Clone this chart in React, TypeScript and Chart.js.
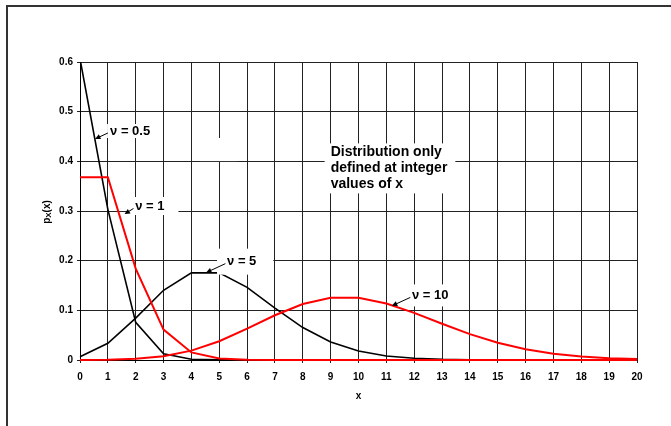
import React, { useEffect, useRef } from 'react';
import { Chart, registerables } from 'chart.js';

Chart.register(...registerables);

const xCategories = ['0', '1', '2', '3', '4', '5', '6', '7', '8', '9', '10', '11', '12', '13', '14', '15', '16', '17', '18', '19', '20'];
const nu05 = [0.6065, 0.3033, 0.0758, 0.0126, 0.0016, 0.0002, 0, 0, 0, 0, 0, 0, 0, 0, 0, 0, 0, 0, 0, 0, 0];
const nu1 = [0.3679, 0.3679, 0.1839, 0.0613, 0.0153, 0.0031, 0.0005, 0.0001, 0, 0, 0, 0, 0, 0, 0, 0, 0, 0, 0, 0, 0];
const nu5 = [0.0067, 0.0337, 0.0842, 0.1404, 0.1755, 0.1755, 0.1462, 0.1044, 0.0653, 0.0363, 0.0181, 0.0082, 0.0034, 0.0013, 0.0005, 0.0002, 0.0001, 0, 0, 0, 0];
const nu10 = [0.0000, 0.0005, 0.0023, 0.0076, 0.0189, 0.0378, 0.0631, 0.0901, 0.1126, 0.1251, 0.1251, 0.1137, 0.0948, 0.0729, 0.0521, 0.0347, 0.0217, 0.0128, 0.0071, 0.0037, 0.0019];
const yTickLabels = ['0', '0.1', '0.2', '0.3', '0.4', '0.5', '0.6'];

const FONT = '"Liberation Sans", Arial, sans-serif';

// annotation labels, positioned in data units
const labelNotes = [
  { lines: ['\u03BD = 0.5'], size: 13, x: 1.08, y: 0.461, tail: [1.0, 0.457], tip: [0.54, 0.445], pad: [3, 4, 7, 7] },
  { lines: ['\u03BD = 1'], size: 13, x: 1.98, y: 0.31, tail: [1.92, 0.305], tip: [1.6, 0.294], pad: [7, 14, 9, 9] },
  { lines: ['\u03BD = 5'], size: 13, x: 5.28, y: 0.198, tail: [5.22, 0.194], tip: [4.53, 0.176], pad: [10, 17, 13, 13] },
  { lines: ['\u03BD = 10'], size: 13, x: 11.92, y: 0.13, tail: [11.86, 0.126], tip: [11.2, 0.109], pad: [12, 17, 11, 11] },
  { lines: ['Distribution only', 'defined at integer', 'values of x'], size: 14, x: 9.0, y: 0.418, tail: null, tip: null, pad: [6, 8, 9, 9] },
];
// a stray empty white text box in the original
const blankBoxes = [{ x1: 4.3, x2: 5.66, y1: 0.447, y2: 0.4005 }];

const decorPlugin = {
  id: 'decor',
  beforeDraw(chart: any) {
    const { ctx, width, height } = chart;
    ctx.save();
    ctx.fillStyle = '#fff';
    ctx.fillRect(0, 0, width, height);
    ctx.restore();
  },
  afterDatasetsDraw(chart: any) {
    const { ctx, scales } = chart;
    const xs = scales.x;
    const ys = scales.y;
    const px = (v: number) => xs.getPixelForValue(v);
    const py = (v: number) => ys.getPixelForValue(v);
    ctx.save();
    ctx.fillStyle = '#fff';
    blankBoxes.forEach((b) => {
      ctx.fillRect(px(b.x1), py(b.y1), px(b.x2) - px(b.x1), py(b.y2) - py(b.y1));
    });
    ctx.textBaseline = 'middle';
    ctx.textAlign = 'left';
    labelNotes.forEach((n) => {
      ctx.font = 'bold ' + n.size + 'px ' + FONT;
      const lx = px(n.x);
      const ly = py(n.y);
      const lh = 16;
      const w = Math.max(...n.lines.map((l) => ctx.measureText(l).width));
      const h = lh * (n.lines.length - 1);
      ctx.fillStyle = '#fff';
      ctx.fillRect(lx - n.pad[0], ly - n.pad[2], w + n.pad[0] + n.pad[1], h + n.pad[2] + n.pad[3]);
      ctx.fillStyle = '#000';
      n.lines.forEach((l, i) => ctx.fillText(l, lx, ly + i * lh));
      if (n.tail && n.tip) {
        const tx = px(n.tail[0]);
        const ty = py(n.tail[1]);
        const hx = px(n.tip[0]);
        const hy = py(n.tip[1]);
        const ang = Math.atan2(hy - ty, hx - tx);
        const al = 6;
        ctx.strokeStyle = '#000';
        ctx.lineWidth = 1;
        ctx.beginPath();
        ctx.moveTo(tx, ty);
        ctx.lineTo(hx - Math.cos(ang) * 3, hy - Math.sin(ang) * 3);
        ctx.stroke();
        ctx.beginPath();
        ctx.moveTo(hx, hy);
        ctx.lineTo(hx - al * Math.cos(ang - 0.45), hy - al * Math.sin(ang - 0.45));
        ctx.lineTo(hx - al * Math.cos(ang + 0.45), hy - al * Math.sin(ang + 0.45));
        ctx.closePath();
        ctx.fill();
      }
    });
    ctx.restore();
  },
  afterDraw(chart: any) {
    const { ctx, width, height, chartArea } = chart;
    ctx.save();
    // frame
    ctx.strokeStyle = '#333';
    ctx.lineWidth = 2;
    ctx.beginPath();
    ctx.moveTo(7, height);
    ctx.lineTo(7, 6);
    ctx.lineTo(width, 6);
    ctx.stroke();
    // x title
    ctx.fillStyle = '#000';
    ctx.font = 'bold 10px ' + FONT;
    ctx.textAlign = 'center';
    ctx.textBaseline = 'middle';
    ctx.fillText('x', (chartArea.left + chartArea.right) / 2, 396);
    // y title with subscript
    ctx.translate(47, 212);
    ctx.rotate(-Math.PI / 2);
    const f1 = 'bold 10px ' + FONT;
    const f2 = 'bold 8px ' + FONT;
    ctx.font = f1;
    const w1 = ctx.measureText('p').width;
    const w3 = ctx.measureText('(x)').width;
    ctx.font = f2;
    const w2 = ctx.measureText('X').width;
    let cx = -(w1 + w2 + w3) / 2;
    ctx.textAlign = 'left';
    ctx.font = f1;
    ctx.fillText('p', cx, 0);
    cx += w1;
    ctx.font = f2;
    ctx.fillText('X', cx, 2);
    cx += w2;
    ctx.font = f1;
    ctx.fillText('(x)', cx, 0);
    ctx.restore();
  },
};

export default function App() {
  const ref = useRef<HTMLCanvasElement | null>(null);
  useEffect(() => {
    if (!ref.current) return;
    const tickFont = { family: FONT, size: 10, weight: 'bold' as const };
    const clip = { left: 2, top: 0, right: 2, bottom: 3 };
    const chart = new Chart(ref.current, {
      type: 'line',
      data: {
        labels: xCategories,
        datasets: [
          { label: 'nu=1', data: nu1, borderColor: '#ff0000', borderWidth: 2, pointRadius: 0, tension: 0, fill: false, clip },
          { label: 'nu=10', data: nu10, borderColor: '#ff0000', borderWidth: 2, pointRadius: 0, tension: 0, fill: false, clip },
          { label: 'nu=0.5', data: nu05, borderColor: '#000000', borderWidth: 1.6, pointRadius: 0, tension: 0, fill: false, clip },
          { label: 'nu=5', data: nu5, borderColor: '#000000', borderWidth: 1.6, pointRadius: 0, tension: 0, fill: false, clip },
        ],
      },
      options: {
        responsive: false,
        animation: false,
        events: [],
        layout: { padding: { left: 0, right: 34, top: 62, bottom: 0 } },
        plugins: { legend: { display: false }, tooltip: { enabled: false }, title: { display: false } },
        scales: {
          x: {
            type: 'category',
            offset: false,
            grid: { color: '#222', lineWidth: 1, tickLength: 3, drawTicks: true },
            border: { color: '#000', width: 1 },
            ticks: { font: tickFont, color: '#000', padding: 8, maxRotation: 0, autoSkip: false },
            afterFit: (s: any) => { s.height = 66; },
          },
          y: {
            min: 0,
            max: 0.6,
            grid: { color: '#222', lineWidth: 1, tickLength: 3, drawTicks: true },
            border: { color: '#000', width: 1 },
            ticks: {
              stepSize: 0.1,
              font: tickFont,
              color: '#000',
              padding: 4,
              callback: (_v: any, i: number) => yTickLabels[i],
            },
            afterFit: (s: any) => { s.width = 80; },
          },
        },
      },
      plugins: [decorPlugin],
    });
    return () => chart.destroy();
  }, []);
  return (
    <canvas
      ref={ref}
      width={671}
      height={426}
      style={{ position: 'absolute', left: 0, top: 0, width: 671, height: 426 }}
    />
  );
}
